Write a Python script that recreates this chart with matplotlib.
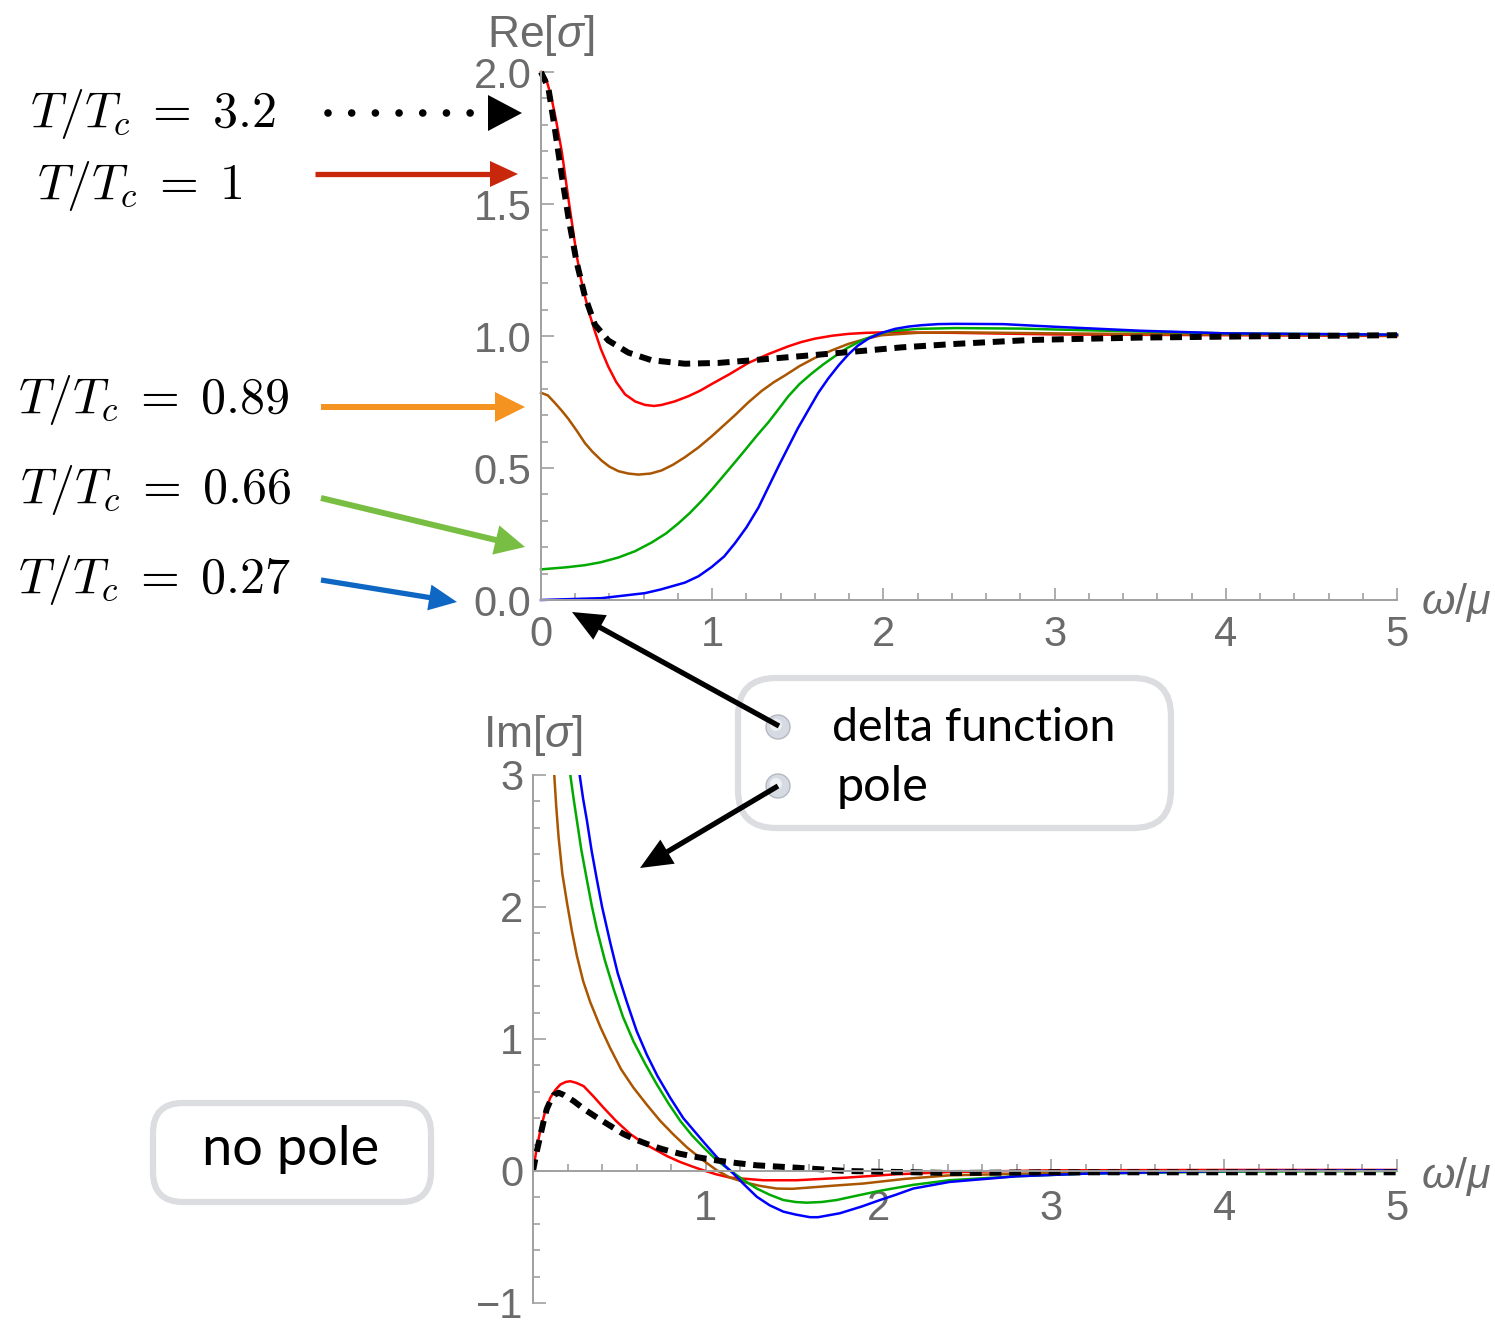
import numpy as np
import matplotlib
matplotlib.use("Agg")
import matplotlib.pyplot as plt
from matplotlib.patches import Polygon, FancyBboxPatch, Circle
from matplotlib.ticker import MultipleLocator, FixedLocator

plt.rcParams['font.family'] = ['Liberation Sans', 'DejaVu Sans']
plt.rcParams['mathtext.fontset'] = 'custom'
plt.rcParams['mathtext.rm'] = 'Liberation Sans'
plt.rcParams['mathtext.it'] = 'Liberation Sans:italic'

# ---- Re[sigma] (top panel) ----
w_re_k = [0, 0.043, 0.082, 0.121, 0.16, 0.208, 0.257, 0.315, 0.393, 0.51, 0.647, 0.841, 1.036,
          1.231, 1.523, 1.815, 2.107, 2.419, 2.86, 3.5, 4.2, 5.0]
re_k = [2.0, 1.94, 1.78, 1.61, 1.45, 1.28, 1.149, 1.043, 0.983, 0.937, 0.908, 0.895, 0.898,
        0.908, 0.924, 0.94, 0.957, 0.97, 0.985, 0.994, 0.999, 1.003]

w_re_r = [0, 0.03, 0.062, 0.09, 0.121, 0.16, 0.185, 0.208, 0.232, 0.257, 0.285, 0.315, 0.35,
          0.393, 0.44, 0.491, 0.55, 0.607, 0.66, 0.705, 0.78, 0.861, 0.93, 0.997, 1.1, 1.211,
          1.33, 1.445, 1.52, 1.6, 1.7, 1.795, 1.9, 2.01, 2.42, 3.0, 4.0, 5.0]
re_r = [2.0, 1.975, 1.90, 1.81, 1.70, 1.52, 1.41, 1.307, 1.22, 1.149, 1.08, 1.017, 0.95,
        0.884, 0.825, 0.779, 0.752, 0.739, 0.735, 0.739, 0.752, 0.772, 0.793, 0.818, 0.855, 0.898,
        0.932, 0.961, 0.977, 0.99, 1.001, 1.008, 1.012, 1.014, 1.012, 1.006, 1.003, 1.0]

w_re_o = [0, 0.04, 0.082, 0.12, 0.16, 0.21, 0.257, 0.3, 0.354, 0.4, 0.452, 0.51, 0.569, 0.64,
          0.705, 0.77, 0.841, 0.92, 0.997, 1.065, 1.133, 1.21, 1.289, 1.36, 1.426, 1.51, 1.6,
          1.7, 1.795, 1.89, 1.99, 2.2, 2.42, 3.0, 4.0, 5.0]
re_o = [0.785, 0.775, 0.746, 0.718, 0.686, 0.64, 0.594, 0.562, 0.528, 0.505, 0.488, 0.479,
        0.475, 0.479, 0.491, 0.512, 0.541, 0.578, 0.62, 0.66, 0.70, 0.748, 0.792, 0.825, 0.851,
        0.886, 0.917, 0.946, 0.97, 0.988, 1.003, 1.012, 1.014, 1.01, 1.005, 1.002]

w_re_g = [0, 0.15, 0.257, 0.35, 0.452, 0.55, 0.647, 0.73, 0.802, 0.87, 0.939, 1.0, 1.055, 1.12,
          1.192, 1.26, 1.328, 1.39, 1.445, 1.51, 1.581, 1.65, 1.718, 1.79, 1.873, 1.95, 2.029,
          2.2, 2.42, 2.8, 3.3, 4.0, 5.0]
re_g = [0.116, 0.124, 0.132, 0.143, 0.161, 0.185, 0.218, 0.252, 0.29, 0.33, 0.376, 0.42, 0.462,
        0.512, 0.568, 0.622, 0.673, 0.725, 0.772, 0.818, 0.858, 0.893, 0.924, 0.955, 0.983, 1.003,
        1.017, 1.027, 1.03, 1.028, 1.02, 1.01, 1.005]

w_re_b = [0, 0.354, 0.607, 0.7, 0.841, 0.92, 0.997, 1.07, 1.133, 1.2, 1.27, 1.33, 1.39, 1.445,
          1.5, 1.562, 1.62, 1.679, 1.74, 1.795, 1.85, 1.912, 1.99, 2.068, 2.15, 2.224, 2.32, 2.42,
          2.7, 3.0, 3.5, 4.0, 5.0]
re_b = [0.0, 0.007, 0.026, 0.04, 0.066, 0.09, 0.125, 0.165, 0.215, 0.275, 0.35, 0.43, 0.51, 0.58,
        0.65, 0.72, 0.785, 0.84, 0.89, 0.93, 0.963, 0.99, 1.012, 1.027, 1.036, 1.041, 1.045, 1.046,
        1.045, 1.035, 1.02, 1.01, 1.005]

# ---- Im[sigma] (bottom panel) ----
w_im_k = [0, 0.023, 0.062, 0.08, 0.10, 0.12, 0.148, 0.18, 0.235, 0.3, 0.37, 0.45, 0.524, 0.59,
          0.659, 0.75, 0.852, 0.95, 1.064, 1.18, 1.295, 1.526, 1.815, 2.41, 3.0, 4.0, 5.0]
im_k = [0, 0.155, 0.38, 0.47, 0.53, 0.575, 0.593, 0.575, 0.53, 0.465, 0.405, 0.34, 0.28, 0.24,
        0.205, 0.165, 0.13, 0.105, 0.08, 0.06, 0.043, 0.025, 0.0, -0.015, -0.01, -0.01, -0.01]

w_im_r = [0, 0.02, 0.042, 0.07, 0.10, 0.13, 0.158, 0.19, 0.216, 0.25, 0.293, 0.35, 0.408, 0.48,
          0.563, 0.64, 0.717, 0.78, 0.852, 0.92, 0.986, 1.06, 1.14, 1.333, 1.526, 1.815, 2.10,
          2.41, 3.0, 4.0, 5.0]
im_r = [0, 0.16, 0.305, 0.45, 0.555, 0.615, 0.655, 0.675, 0.68, 0.668, 0.643, 0.565, 0.48, 0.38,
        0.28, 0.21, 0.155, 0.11, 0.068, 0.035, 0.005, -0.025, -0.05, -0.07, -0.07, -0.05, -0.025,
        -0.008, 0.005, 0.008, 0.008]

w_im_o = [0.115, 0.123, 0.135, 0.148, 0.17, 0.197, 0.225, 0.254, 0.29, 0.331, 0.39, 0.447, 0.51,
          0.582, 0.66, 0.736, 0.81, 0.89, 0.98, 1.064, 1.14, 1.218, 1.31, 1.41, 1.5, 1.603, 1.75,
          1.911, 2.15, 2.41, 3.0, 4.0, 5.0]
im_o = [3.3, 3.0, 2.75, 2.53, 2.25, 2.03, 1.82, 1.63, 1.44, 1.28, 1.09, 0.93, 0.77, 0.63, 0.5,
        0.38, 0.28, 0.18, 0.085, 0.005, -0.05, -0.083, -0.112, -0.133, -0.135, -0.125, -0.11,
        -0.095, -0.06, -0.033, -0.015, 0.0, 0.005]

w_im_g = [0.2, 0.216, 0.235, 0.254, 0.28, 0.312, 0.34, 0.37, 0.415, 0.466, 0.52, 0.582, 0.65,
          0.717, 0.785, 0.852, 0.92, 0.986, 1.06, 1.14, 1.22, 1.295, 1.37, 1.449, 1.52, 1.584,
          1.67, 1.757, 1.88, 2.008, 2.2, 2.41, 2.8, 3.2, 4.0, 5.0]
im_g = [3.3, 3.0, 2.82, 2.655, 2.43, 2.205, 2.01, 1.83, 1.6, 1.38, 1.17, 0.98, 0.81, 0.655, 0.51,
        0.38, 0.27, 0.18, 0.085, 0.005, -0.07, -0.133, -0.18, -0.22, -0.235, -0.24, -0.235, -0.22,
        -0.185, -0.15, -0.105, -0.07, -0.04, -0.02, -0.005, 0.0]

w_im_b = [0.25, 0.27, 0.29, 0.312, 0.34, 0.37, 0.40, 0.447, 0.49, 0.543, 0.6, 0.659, 0.72, 0.794,
          0.87, 0.948, 1.0, 1.064, 1.11, 1.16, 1.22, 1.295, 1.37, 1.449, 1.52, 1.603, 1.65, 1.776,
          1.9, 2.008, 2.1, 2.2, 2.41, 2.8, 3.2, 4.0, 5.0]
im_b = [3.3, 3.0, 2.82, 2.655, 2.42, 2.205, 2.0, 1.73, 1.5, 1.28, 1.06, 0.88, 0.72, 0.555,
        0.4, 0.28, 0.2, 0.105, 0.04, -0.02, -0.1, -0.195, -0.26, -0.308, -0.33, -0.35, -0.35,
        -0.32, -0.27, -0.22, -0.18, -0.133, -0.083, -0.04, -0.02, 0.0, 0.005]

labels = [r"$T/T_c \;=\; 3.2$", r"$T/T_c \;=\; 1$", r"$T/T_c \;=\; 0.89$",
          r"$T/T_c \;=\; 0.66$", r"$T/T_c \;=\; 0.27$"]

RED, BROWN, GREEN, BLUE = '#ff0000', '#aa5500', '#00aa00', '#0000ff'
AX_GRAY = '#a0a0a0'
TXT_GRAY = '#6b6b6b'

fig = plt.figure(figsize=(14.95, 13.25), dpi=100)


def style(ax):
    for s in ['top', 'right']:
        ax.spines[s].set_visible(False)
    for s in ['left', 'bottom']:
        ax.spines[s].set_color(AX_GRAY)
        ax.spines[s].set_linewidth(1.4)
    ax.tick_params(which='both', direction='in', color=AX_GRAY, labelcolor=TXT_GRAY,
                   labelsize=30, width=1.2)
    ax.tick_params(which='major', length=9)
    ax.tick_params(which='minor', length=5)
    ax.tick_params(axis='x', pad=11)
    ax.tick_params(axis='y', pad=7)
    ax.set_facecolor('none')


line_kw = dict(lw=1.8, solid_joinstyle='round')
dash_kw = dict(color='k', lw=4.3, dashes=(2.0, 1.3))

# top panel
ax1 = fig.add_axes([541 / 1495, 1 - 600 / 1325, 856 / 1495, 528 / 1325])
style(ax1)
ax1.set_xlim(0, 5)
ax1.set_ylim(0, 2)
ax1.xaxis.set_major_locator(MultipleLocator(1))
ax1.xaxis.set_minor_locator(MultipleLocator(0.2))
ax1.yaxis.set_major_locator(MultipleLocator(0.5))
ax1.yaxis.set_minor_locator(MultipleLocator(0.1))
ax1.yaxis.set_major_formatter(plt.FormatStrFormatter('%.1f'))
ax1.plot(w_re_r, re_r, color=RED, clip_on=False, **line_kw)
ax1.plot(w_re_o, re_o, color=BROWN, clip_on=False, **line_kw)
ax1.plot(w_re_g, re_g, color=GREEN, clip_on=False, **line_kw)
ax1.plot(w_re_b, re_b, color=BLUE, clip_on=False, **line_kw)
ax1.plot(w_re_k, re_k, clip_on=False, **dash_kw)

# bottom panel
ax2 = fig.add_axes([533 / 1495, 1 - 1303 / 1325, 864 / 1495, 528 / 1325])
style(ax2)
ax2.set_xlim(0, 5)
ax2.set_ylim(-1, 3)
ax2.spines['bottom'].set_position(('data', 0))
ax2.xaxis.set_major_locator(FixedLocator([1, 2, 3, 4, 5]))
ax2.xaxis.set_minor_locator(MultipleLocator(0.2))
ax2.yaxis.set_major_locator(MultipleLocator(1))
ax2.yaxis.set_minor_locator(MultipleLocator(0.2))
ax2.tick_params(axis='x', pad=13)
ax2.plot(w_im_r, im_r, color=RED, **line_kw)
ax2.plot(w_im_o, im_o, color=BROWN, **line_kw)
ax2.plot(w_im_g, im_g, color=GREEN, **line_kw)
ax2.plot(w_im_b, im_b, color=BLUE, **line_kw)
ax2.plot(w_im_k, im_k, **dash_kw)

# overlay in pixel coordinates for the annotations
ov = fig.add_axes([0, 0, 1, 1], zorder=10)
ov.set_xlim(0, 1495)
ov.set_ylim(1325, 0)
ov.axis('off')
ov.patch.set_alpha(0)

ov.text(541, 36, r'Re[$\sigma$]', ha='center', va='center', fontsize=32, color=TXT_GRAY)
ov.text(533, 736, r'Im[$\sigma$]', ha='center', va='center', fontsize=32, color=TXT_GRAY)
ov.text(1456, 603, r'$\omega/\mu$', ha='center', va='center', fontsize=31, color=TXT_GRAY)
ov.text(1456, 1177, r'$\omega/\mu$', ha='center', va='center', fontsize=31, color=TXT_GRAY)

label_pos = [(30, 127), (37, 199), (18, 413), (20, 503), (18, 593)]
for (lx, ly), lab in zip(label_pos, labels):
    ov.text(lx, ly, lab, ha='left', va='baseline', fontsize=36, color='k', math_fontfamily='cm')


def arrow(x0, y0, x1, y1, color, lw, hl, hw):
    d = np.hypot(x1 - x0, y1 - y0)
    ux, uy = (x1 - x0) / d, (y1 - y0) / d
    bx, by = x1 - ux * hl, y1 - uy * hl
    ov.plot([x0, bx + ux * 2], [y0, by + uy * 2], color=color, lw=lw, solid_capstyle='butt')
    px, py = -uy, ux
    ov.add_patch(Polygon([[x1, y1], [bx + px * hw / 2, by + py * hw / 2],
                          [bx - px * hw / 2, by - py * hw / 2]], closed=True, color=color, lw=0))


# dotted black arrow for T/Tc = 3.2
ov.plot([328, 478], [113, 113], color='k', lw=5.5, linestyle=(0, (0.001, 3.1)),
        dash_capstyle='round')
ov.add_patch(Polygon([[522, 113], [488, 95], [488, 131]], closed=True, color='k', lw=0))
arrow(315, 174, 518, 174, '#c8270b', 3.8, 28, 26)
arrow(321, 407, 525, 407, '#f4931f', 4.3, 30, 30)
arrow(321, 498, 525, 547, '#78be43', 4.3, 30, 30)
arrow(321, 580, 457, 602, '#0d67c3', 3.8, 28, 26)

# rounded boxes
ov.add_patch(FancyBboxPatch((738, 678), 433, 150, boxstyle="round,pad=0,rounding_size=38",
                            ec='#dcdde0', fc='white', lw=4.5))
ov.add_patch(FancyBboxPatch((153, 1103), 278, 99, boxstyle="round,pad=0,rounding_size=30",
                            ec='#dcdde0', fc='white', lw=4.5))

arrow(779, 726, 572, 612, 'k', 3.8, 32, 28)
arrow(778, 786, 640, 868, 'k', 3.8, 32, 28)

for cy in [727, 786]:
    ov.add_patch(Circle((778, cy), 12, fc='#d6dae2', ec='#b4b8c0', lw=1))
    ov.add_patch(Circle((776, cy - 2), 6, fc='#eef0f4', ec='none'))

ov.text(832, 728, 'delta function', ha='left', va='center', fontsize=33.5, color='k', family='Lato')
ov.text(837, 787, 'pole', ha='left', va='center', fontsize=35, color='k', family='Lato')
ov.text(291, 1150, 'no pole', ha='center', va='center', fontsize=39, color='k', family='Lato')

fig.savefig('out.png', dpi=100)
